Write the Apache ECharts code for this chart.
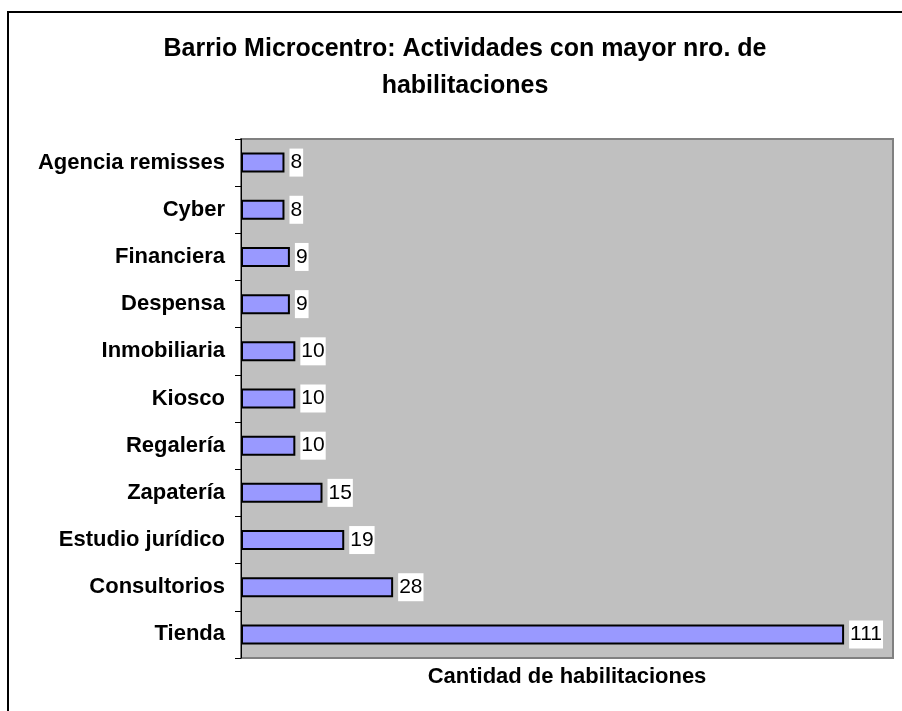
<!DOCTYPE html>
<html lang="es">
<head>
    <meta charset="utf-8">
    <script src="https://cdn.jsdelivr.net/npm/echarts@6/dist/echarts.min.js"></script>
    <title>Barrio Microcentro</title>
    <style>
        html, body { margin: 0; padding: 0; background: #fff; }
        #main { width: 902px; height: 711px; }
    </style>
</head>
<body>
<div id="main"></div>
<script>
    // actividades (de arriba hacia abajo)
    var actividades = ['Agencia remisses', 'Cyber', 'Financiera', 'Despensa', 'Inmobiliaria',
        'Kiosco', 'Regalería', 'Zapatería', 'Estudio jurídico', 'Consultorios', 'Tienda'];
    var habilitaciones = [8, 8, 9, 9, 10, 10, 10, 15, 19, 28, 111];

    var font = '"Liberation Sans", Arial, sans-serif';
    var myChart = echarts.init(document.getElementById('main'));

    var option = {
        animation: false,
        backgroundColor: '#fff',
        title: {
            text: 'Barrio Microcentro: Actividades con mayor nro. de\nhabilitaciones',
            left: 460,
            top: 26,
            textAlign: 'center',
            textStyle: {
                fontFamily: font,
                fontSize: 25,
                fontWeight: 'bold',
                color: '#000',
                lineHeight: 37
            }
        },
        graphic: [
            {   // marco exterior del gráfico
                type: 'polyline',
                shape: { points: [[8, 711], [8, 12], [902, 12]] },
                style: { stroke: '#000', lineWidth: 2, fill: null }
            }
        ],
        grid: {
            left: 241,
            top: 139,
            right: 9,
            bottom: 53,
            show: true,
            backgroundColor: '#c0c0c0',
            borderColor: '#808080',
            borderWidth: 2
        },
        xAxis: {
            type: 'value',
            min: 0,
            max: 120,
            name: 'Cantidad de habilitaciones',
            nameLocation: 'middle',
            nameGap: 19,
            nameTextStyle: {
                fontFamily: font,
                fontSize: 22,
                fontWeight: 'bold',
                color: '#000',
                verticalAlign: 'middle'
            },
            axisLine: { show: false },
            axisTick: { show: false },
            axisLabel: { show: false },
            splitLine: { show: false }
        },
        yAxis: {
            type: 'category',
            inverse: true,
            data: actividades,
            axisLine: { show: true, lineStyle: { color: '#000', width: 1 } },
            axisTick: { show: true, length: 6, lineStyle: { color: '#000' } },
            axisLabel: {
                margin: 16,
                fontFamily: font,
                fontSize: 22,
                fontWeight: 'bold',
                color: '#000'
            }
        },
        series: [
            {
                name: 'Habilitaciones',
                type: 'bar',
                data: habilitaciones,
                barWidth: 20,
                itemStyle: {
                    color: '#9999ff',
                    borderColor: '#000',
                    borderWidth: 2
                },
                label: {
                    show: true,
                    position: 'right',
                    distance: 5,
                    fontFamily: font,
                    fontSize: 21,
                    color: '#000',
                    backgroundColor: '#fff',
                    padding: [4, 1, 3, 1]
                }
            }
        ]
    };
    myChart.setOption(option);
</script>
</body>
</html>
